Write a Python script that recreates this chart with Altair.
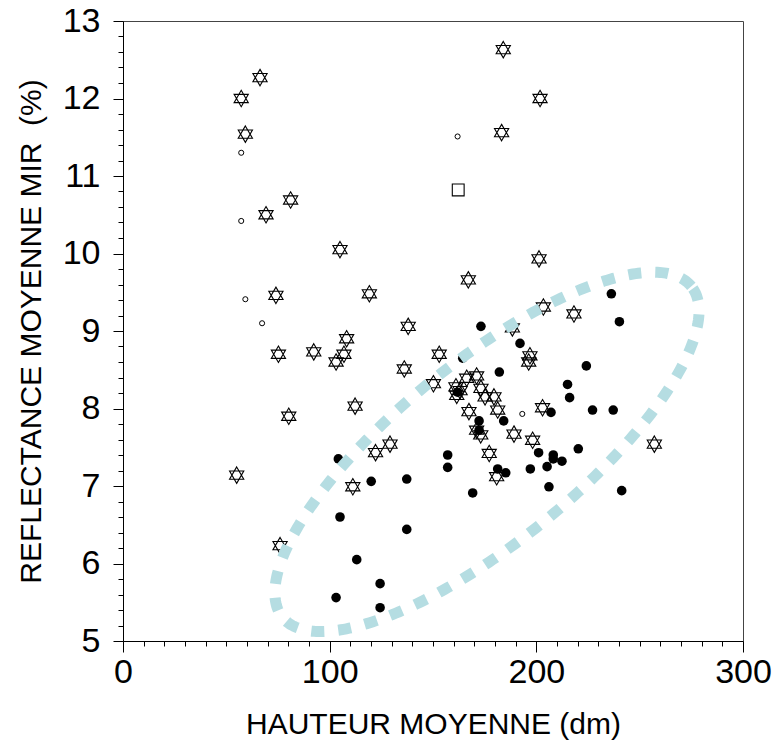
import altair as alt
import pandas as pd
import numpy as np

# ---- data ----
hex_x = [57.2, 66.3, 59.2, 69.2, 81.1, 74.0, 75.2, 55.0, 80.2, 76.0,
         105.0, 92.3, 103.1, 106.9, 108.2, 119.2, 112.3, 111.2, 122.2, 129.2,
         136.1, 138.0, 153.0, 150.2, 167.1, 166.3, 171.1, 161.1, 163.1, 161.5,
         173.2, 175.2, 179.5, 181.3, 167.4, 171.1, 173.1, 189.2, 198.2, 177.2,
         180.8, 257.1, 188.4, 196.9, 196.3, 203.0, 203.4, 218.2, 201.3, 184.0,
         201.8, 183.2]
hex_y = [12.00, 12.27, 11.54, 10.50, 10.69, 9.46, 8.70, 7.14, 7.90, 6.23,
         10.05, 8.73, 8.60, 8.70, 8.90, 9.48, 8.03, 6.99, 7.43, 7.54,
         8.51, 9.06, 8.70, 8.32, 9.66, 8.39, 8.42, 8.28, 8.23, 8.17,
         8.26, 8.15, 8.15, 7.98, 7.96, 7.72, 7.66, 7.67, 7.59, 7.42,
         7.12, 7.54, 9.04, 8.68, 8.60, 8.01, 9.31, 9.22, 9.93, 12.63,
         12.00, 11.56]

dot_x = [236.3, 240.2, 173.2, 192.1, 164.4, 182.1, 224.2, 215.1, 216.1, 161.9,
         227.2, 237.2, 207.1, 184.2, 172.3, 172.3, 220.3, 201.1, 208.2, 208.2,
         212.4, 157.1, 157.1, 197.1, 205.2, 181.3, 185.2, 120.1, 137.3, 206.1,
         169.2, 241.3, 104.2, 105.0, 137.3, 113.1, 124.4, 103.1, 124.4]
dot_y = [9.48, 9.12, 9.06, 8.84, 8.65, 8.47, 8.55, 8.31, 8.14, 8.21,
         7.98, 7.98, 7.95, 7.84, 7.84, 7.72, 7.48, 7.43, 7.40, 7.35,
         7.32, 7.40, 7.24, 7.22, 7.25, 7.22, 7.17, 7.06, 7.09, 6.99,
         6.91, 6.94, 7.35, 6.60, 6.44, 6.05, 5.74, 5.56, 5.43]

small_x = [57.2, 57.2, 59.2, 67.3, 161.9, 193.2]
small_y = [11.30, 10.42, 9.41, 9.10, 11.51, 7.93]

square_x = [162.2]
square_y = [10.82]

# ellipse annotation (centre in data units, semi-axes in pixels, tilt in degrees)
ell_cx, ell_cy = 176.1, 7.44
ell_a, ell_b, ell_tilt = 263, 90, 39

W, H = 620, 620
X_DOM = [0, 300]
Y_DOM = [5, 13]

kx = W / (X_DOM[1] - X_DOM[0])
ky = H / (Y_DOM[1] - Y_DOM[0])
t = np.linspace(0, 2 * np.pi, 361)
th = np.deg2rad(ell_tilt)
ox = ell_a * np.cos(t) * np.cos(th) - ell_b * np.sin(t) * np.sin(th)
oy = ell_a * np.cos(t) * np.sin(th) + ell_b * np.sin(t) * np.cos(th)
ell_df = pd.DataFrame({"x": ell_cx + ox / kx, "y": ell_cy + oy / ky, "o": np.arange(len(t))})

hex_df = pd.DataFrame({"x": hex_x, "y": hex_y})
dot_df = pd.DataFrame({"x": dot_x, "y": dot_y})
small_df = pd.DataFrame({"x": small_x, "y": small_y})
sq_df = pd.DataFrame({"x": square_x, "y": square_y})

FONT = "Arial, Liberation Sans, sans-serif"

x_ticks = list(range(0, 301, 10))
y_ticks = [round(5 + 0.2 * i, 1) for i in range(41)]

xscale = alt.Scale(domain=X_DOM, nice=False, zero=False)
yscale = alt.Scale(domain=Y_DOM, nice=False, zero=False)

X_MAJOR = "abs(datum.value / 100 - round(datum.value / 100)) < 0.001"
Y_MAJOR = "abs(datum.value - round(datum.value)) < 0.001"

xaxis = alt.Axis(
    values=x_ticks, tickCount=200,
    title="HAUTEUR MOYENNE (dm)",
    labelExpr=f"{X_MAJOR} ? format(datum.value, 'd') : ''",
    tickSize={"condition": {"test": X_MAJOR, "value": 11}, "value": 5},
    labelFontSize={"condition": {"test": X_MAJOR, "value": 34}, "value": 1},
    labelFlush=False, labelOverlap=False, grid=False,
    titleFontSize=30, labelPadding=3,
    titleBaseline="alphabetic", titleY=92,
)
yaxis = alt.Axis(
    values=y_ticks, tickCount=200,
    title="REFLECTANCE MOYENNE MIR\u00a0\u00a0(%)",
    labelExpr=f"{Y_MAJOR} ? format(datum.value, 'd') : ''",
    tickSize={"condition": {"test": Y_MAJOR, "value": 10}, "value": 5},
    labelFontSize={"condition": {"test": Y_MAJOR, "value": 34}, "value": 1},
    labelFlush=False, labelOverlap=False, grid=False,
    titleFontSize=30, labelPadding=13,
    titleBaseline="alphabetic", titleX=-83,
)

HEX = "M0,-1L0.866,0.5L-0.866,0.5Z M0,1L0.866,-0.5L-0.866,-0.5Z"

base_x = alt.X("x:Q", scale=xscale, axis=xaxis)
base_y = alt.Y("y:Q", scale=yscale, axis=yaxis)

hexes = alt.Chart(hex_df).mark_point(
    shape=HEX, size=270, filled=False, stroke="black", strokeWidth=1.1, opacity=1
).encode(x=base_x, y=base_y)

dots = alt.Chart(dot_df).mark_point(
    shape="circle", size=92, filled=True, fill="black", stroke="black", strokeWidth=0, opacity=1
).encode(x="x:Q", y="y:Q")

smalls = alt.Chart(small_df).mark_point(
    shape="circle", size=26, filled=False, stroke="black", strokeWidth=1, opacity=1
).encode(x="x:Q", y="y:Q")

squares = alt.Chart(sq_df).mark_point(
    shape="square", size=140, filled=False, stroke="black", strokeWidth=1.1, opacity=1
).encode(x="x:Q", y="y:Q")

ellipse = alt.Chart(ell_df).mark_line(
    color="#b5dde2", strokeWidth=11, strokeDash=[13, 14], strokeCap="butt"
).encode(x="x:Q", y="y:Q", order="o:Q")

chart = alt.layer(hexes, dots, smalls, squares, ellipse).properties(
    width=W, height=H,
    autosize=alt.AutoSizeParams(type="none"),
    padding={"left": 123, "top": 21, "right": 31, "bottom": 101},
).configure_view(
    stroke="#444", strokeWidth=1
).configure_axis(
    domainColor="black", tickColor="black", labelColor="black", titleColor="black",
    labelFont=FONT, titleFont=FONT, titleFontWeight="normal", domainWidth=1, tickWidth=1,
)

chart.save("out.html", embed_options={"renderer": "svg", "actions": False})
